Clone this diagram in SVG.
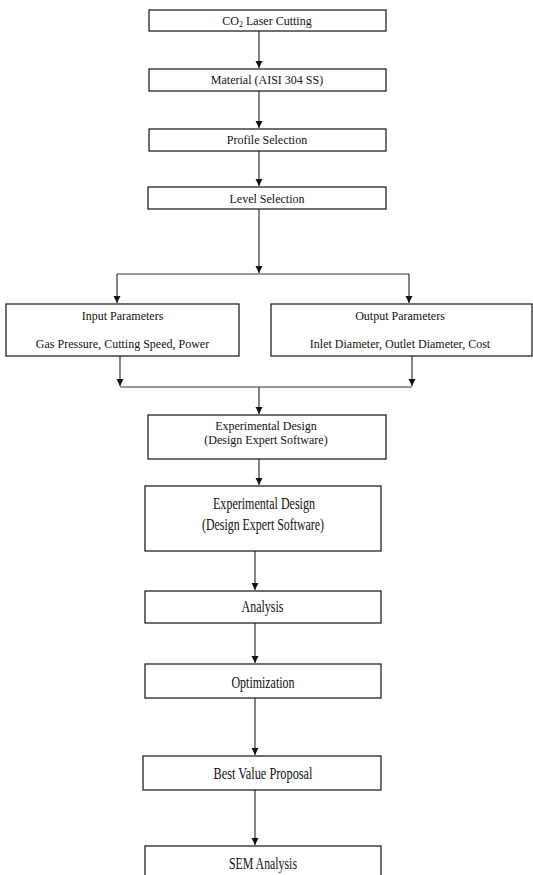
<svg xmlns="http://www.w3.org/2000/svg" width="533" height="875" viewBox="0 0 533 875">
<defs>
<marker id="ah" markerUnits="userSpaceOnUse" markerWidth="8" markerHeight="8" refX="7" refY="3.5" orient="auto">
<path d="M0,0 L7,3.5 L0,7 Z" fill="#111"/>
</marker>
<style>
rect{fill:#fff;stroke:#111;stroke-width:1.2}
text{font-family:"Liberation Serif","Times New Roman",serif;fill:#111;text-anchor:middle}
.s{font-size:12px}
.b{font-size:16.5px}
#connectors path{fill:none;stroke:#333;stroke-width:1.2}
.a{marker-end:url(#ah)}
</style>
</defs>
<rect x="0" y="0" width="533" height="875" style="fill:#fff;stroke:none"/>
<g id="connectors">
<path class="a" d="M259,31 V68"/>
<path class="a" d="M259,91 V128"/>
<path class="a" d="M259,151 V186"/>
<path class="a" d="M259,209 V273"/>
<path d="M117,274 H409"/>
<path class="a" d="M117,274 V303"/>
<path class="a" d="M409,274 V303"/>
<path class="a" d="M120,356 V386"/>
<path class="a" d="M412,356 V386"/>
<path d="M120,387 H412"/>
<path class="a" d="M259,387 V414"/>
<path class="a" d="M259,459 V485"/>
<path class="a" d="M255,551 V590"/>
<path class="a" d="M255,623 V663"/>
<path class="a" d="M255,698 V755"/>
<path class="a" d="M255,790 V845"/>
</g>
<g id="n1"><rect x="149" y="10" width="237" height="21"/><text class="s" x="267" y="25">CO<tspan font-size="8" dy="2">2</tspan><tspan dy="-2"> Laser Cutting</tspan></text></g>
<g id="n2"><rect x="149" y="69" width="237" height="22"/><text class="s" x="267" y="84">Material (AISI 304 SS)</text></g>
<g id="n3"><rect x="149" y="129" width="237" height="22"/><text class="s" x="267" y="144">Profile Selection</text></g>
<g id="n4"><rect x="148" y="187" width="238" height="22"/><text class="s" x="267" y="203">Level Selection</text></g>
<g id="n5"><rect x="6" y="304" width="233" height="52"/><text class="s" x="122.5" y="320">Input Parameters</text><text class="s" x="122.5" y="348">Gas Pressure, Cutting Speed, Power</text></g>
<g id="n6"><rect x="271" y="304" width="261" height="52"/><text class="s" x="400" y="320">Output Parameters</text><text class="s" x="400" y="348">Inlet Diameter, Outlet Diameter, Cost</text></g>
<g id="n7"><rect x="148" y="415" width="238" height="44"/><text class="s" x="266" y="430">Experimental Design</text><text class="s" x="266" y="444">(Design Expert Software)</text></g>
<g id="n8"><rect x="145" y="486" width="236" height="65"/><text class="b" x="264" y="509" textLength="102" lengthAdjust="spacingAndGlyphs">Experimental Design</text><text class="b" x="263" y="530" textLength="122" lengthAdjust="spacingAndGlyphs">(Design Expert Software)</text></g>
<g id="n9"><rect x="145" y="591" width="236" height="32"/><text class="b" x="262.5" y="612" textLength="42" lengthAdjust="spacingAndGlyphs">Analysis</text></g>
<g id="n10"><rect x="145" y="664" width="236" height="34"/><text class="b" x="263" y="688" textLength="63" lengthAdjust="spacingAndGlyphs">Optimization</text></g>
<g id="n11"><rect x="143" y="756" width="238" height="34"/><text class="b" x="263" y="779" textLength="99" lengthAdjust="spacingAndGlyphs">Best Value Proposal</text></g>
<g id="n12"><rect x="145" y="846" width="236" height="40"/><text class="b" x="263" y="869" textLength="68" lengthAdjust="spacingAndGlyphs">SEM Analysis</text></g>
</svg>
